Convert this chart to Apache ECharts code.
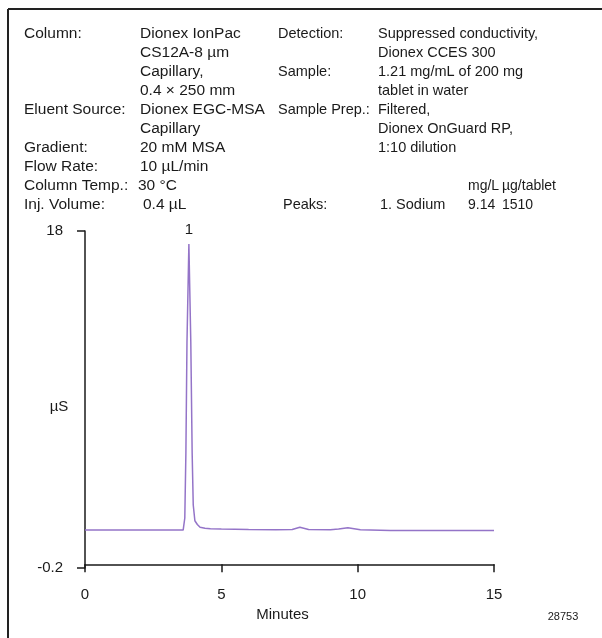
<!DOCTYPE html>
<html>
<head>
<meta charset="utf-8">
<script src="https://cdn.jsdelivr.net/npm/echarts@6/dist/echarts.min.js"></script>
<style>
html,body{margin:0;padding:0;background:#fff;}
#chart{width:602px;height:638px;}
</style>
</head>
<body>
<div id="chart"></div>
<script>
// ---- data ----
const minutes = [0, 1, 2, 3, 3.60, 3.66, 3.70, 3.74, 3.81, 3.88, 3.93, 3.97, 4.03, 4.12, 4.22, 4.40, 4.60, 5.0, 6.0, 7.0, 7.6, 7.88, 8.2, 9.0, 9.3, 9.64, 10.1, 11.2, 12, 13, 14, 15];
const microS  = [1.85, 1.85, 1.85, 1.85, 1.85, 2.5, 6.0, 12.0, 17.3, 12.0, 6.0, 3.2, 2.35, 2.15, 2.0, 1.95, 1.92, 1.9, 1.88, 1.87, 1.88, 2.0, 1.88, 1.87, 1.9, 1.97, 1.86, 1.82, 1.82, 1.82, 1.82, 1.82];
const peakLabels = [{ x: 3.81, y: 17.3, name: '1' }];
const xTicks = [0, 5, 10, 15];
const yTickValues = [-0.2, 18];

const col1 = ['Column:', '', '', '', 'Eluent Source:', '', 'Gradient:', 'Flow Rate:', 'Column Temp.:', 'Inj. Volume:'];
const col2 = ['Dionex IonPac', 'CS12A-8 µm', 'Capillary,', '0.4 × 250 mm', 'Dionex EGC-MSA', 'Capillary', '20 mM MSA', '10 µL/min', '30 °C', '0.4 µL'];
const col3 = ['Detection:', '', 'Sample:', '', 'Sample Prep.:', '', '', '', '', 'Peaks:'];
const col4 = ['Suppressed conductivity,', 'Dionex CCES 300', '1.21 mg/mL of 200 mg', 'tablet in water', 'Filtered,', 'Dionex OnGuard RP,', '1:10 dilution', '', '', '1. Sodium'];
const col5 = ['', '', '', '', '', '', '', '', 'mg/L', '9.14'];
const col6 = ['', '', '', '', '', '', '', '', 'µg/tablet', '1510'];
const figureId = '28753';

// ---- build ----
const FONT = '"Liberation Sans", Arial, sans-serif';
const TXT = '#1a1a1a';
const rowY0 = 34, rowDY = 19;
const colX = [24, 140, 278, 378, 468, 502];
const cols = [col1, col2, col3, col4, col5, col6];
const colSize = [15.5, 15.5, 14.5, 14.5, 14, 14];
const graphics = [];
cols.forEach((col, ci) => {
  col.forEach((t, ri) => {
    if (!t) return;
    let x = colX[ci];
    if (ci === 1 && ri === 8) x -= 2;
    if (ci === 1 && ri === 9) x += 3;
    if (ci === 2 && ri === 9) x += 5;
    if (ci === 3 && ri === 9) x += 2;
    graphics.push({
      type: 'text', x: x, y: rowY0 + rowDY * ri, silent: true,
      style: { text: t, font: colSize[ci] + 'px ' + FONT, fill: TXT, align: 'left', verticalAlign: 'middle' }
    });
  });
});
// frame (left and top edges)
graphics.push({ type: 'line', silent: true, shape: { x1: 8, y1: 9, x2: 602, y2: 9 }, style: { stroke: '#222', lineWidth: 2 } });
graphics.push({ type: 'line', silent: true, shape: { x1: 8, y1: 9, x2: 8, y2: 638 }, style: { stroke: '#222', lineWidth: 2 } });
// y axis title
graphics.push({ type: 'text', silent: true, x: 59, y: 407, style: { text: 'µS', font: '15px ' + FONT, fill: TXT, align: 'center', verticalAlign: 'middle' } });
// figure id
graphics.push({ type: 'text', silent: true, x: 563, y: 617, style: { text: figureId, font: '11px ' + FONT, fill: TXT, align: 'center', verticalAlign: 'middle' } });

const chart = echarts.init(document.getElementById('chart'), null, { renderer: 'canvas' });
chart.setOption({
  animation: false,
  backgroundColor: '#fff',
  grid: { left: 85, right: 108, top: 231, bottom: 70 },
  xAxis: {
    type: 'value', min: xTicks[0], max: xTicks[xTicks.length - 1], interval: 5,
    name: 'Minutes', nameLocation: 'middle', nameGap: 31,
    nameTextStyle: { fontFamily: FONT, fontSize: 15, color: TXT, padding: [0, 14, 0, 0] },
    axisLine: { lineStyle: { color: '#1a1a1a', width: 1.5 } },
    axisTick: { length: 8, lineStyle: { color: '#1a1a1a', width: 1.5 } },
    axisLabel: { fontFamily: FONT, fontSize: 15, color: TXT, margin: 19 },
    splitLine: { show: false }
  },
  yAxis: {
    type: 'value', min: yTickValues[0], max: yTickValues[1],
    axisLine: { show: true, lineStyle: { color: '#1a1a1a', width: 1.5 } },
    axisTick: { show: true, length: 8, customValues: yTickValues, lineStyle: { color: '#1a1a1a', width: 1.5 } },
    axisLabel: { fontFamily: FONT, fontSize: 15, color: TXT, margin: 22, customValues: yTickValues, padding: [6, 0, 0, 0] },
    splitLine: { show: false }
  },
  series: [{
    type: 'line',
    data: minutes.map((m, i) => [m, microS[i]]),
    showSymbol: false,
    lineStyle: { color: '#9474c8', width: 1.5 },
    itemStyle: { color: '#9474c8' },
    markPoint: {
      symbol: 'circle', symbolSize: 0,
      label: { show: true, position: 'top', distance: 7, formatter: p => p.name, fontFamily: FONT, fontSize: 15, color: TXT },
      data: peakLabels.map(p => ({ name: p.name, coord: [p.x, p.y] }))
    }
  }],
  graphic: graphics
});
</script>
</body>
</html>
